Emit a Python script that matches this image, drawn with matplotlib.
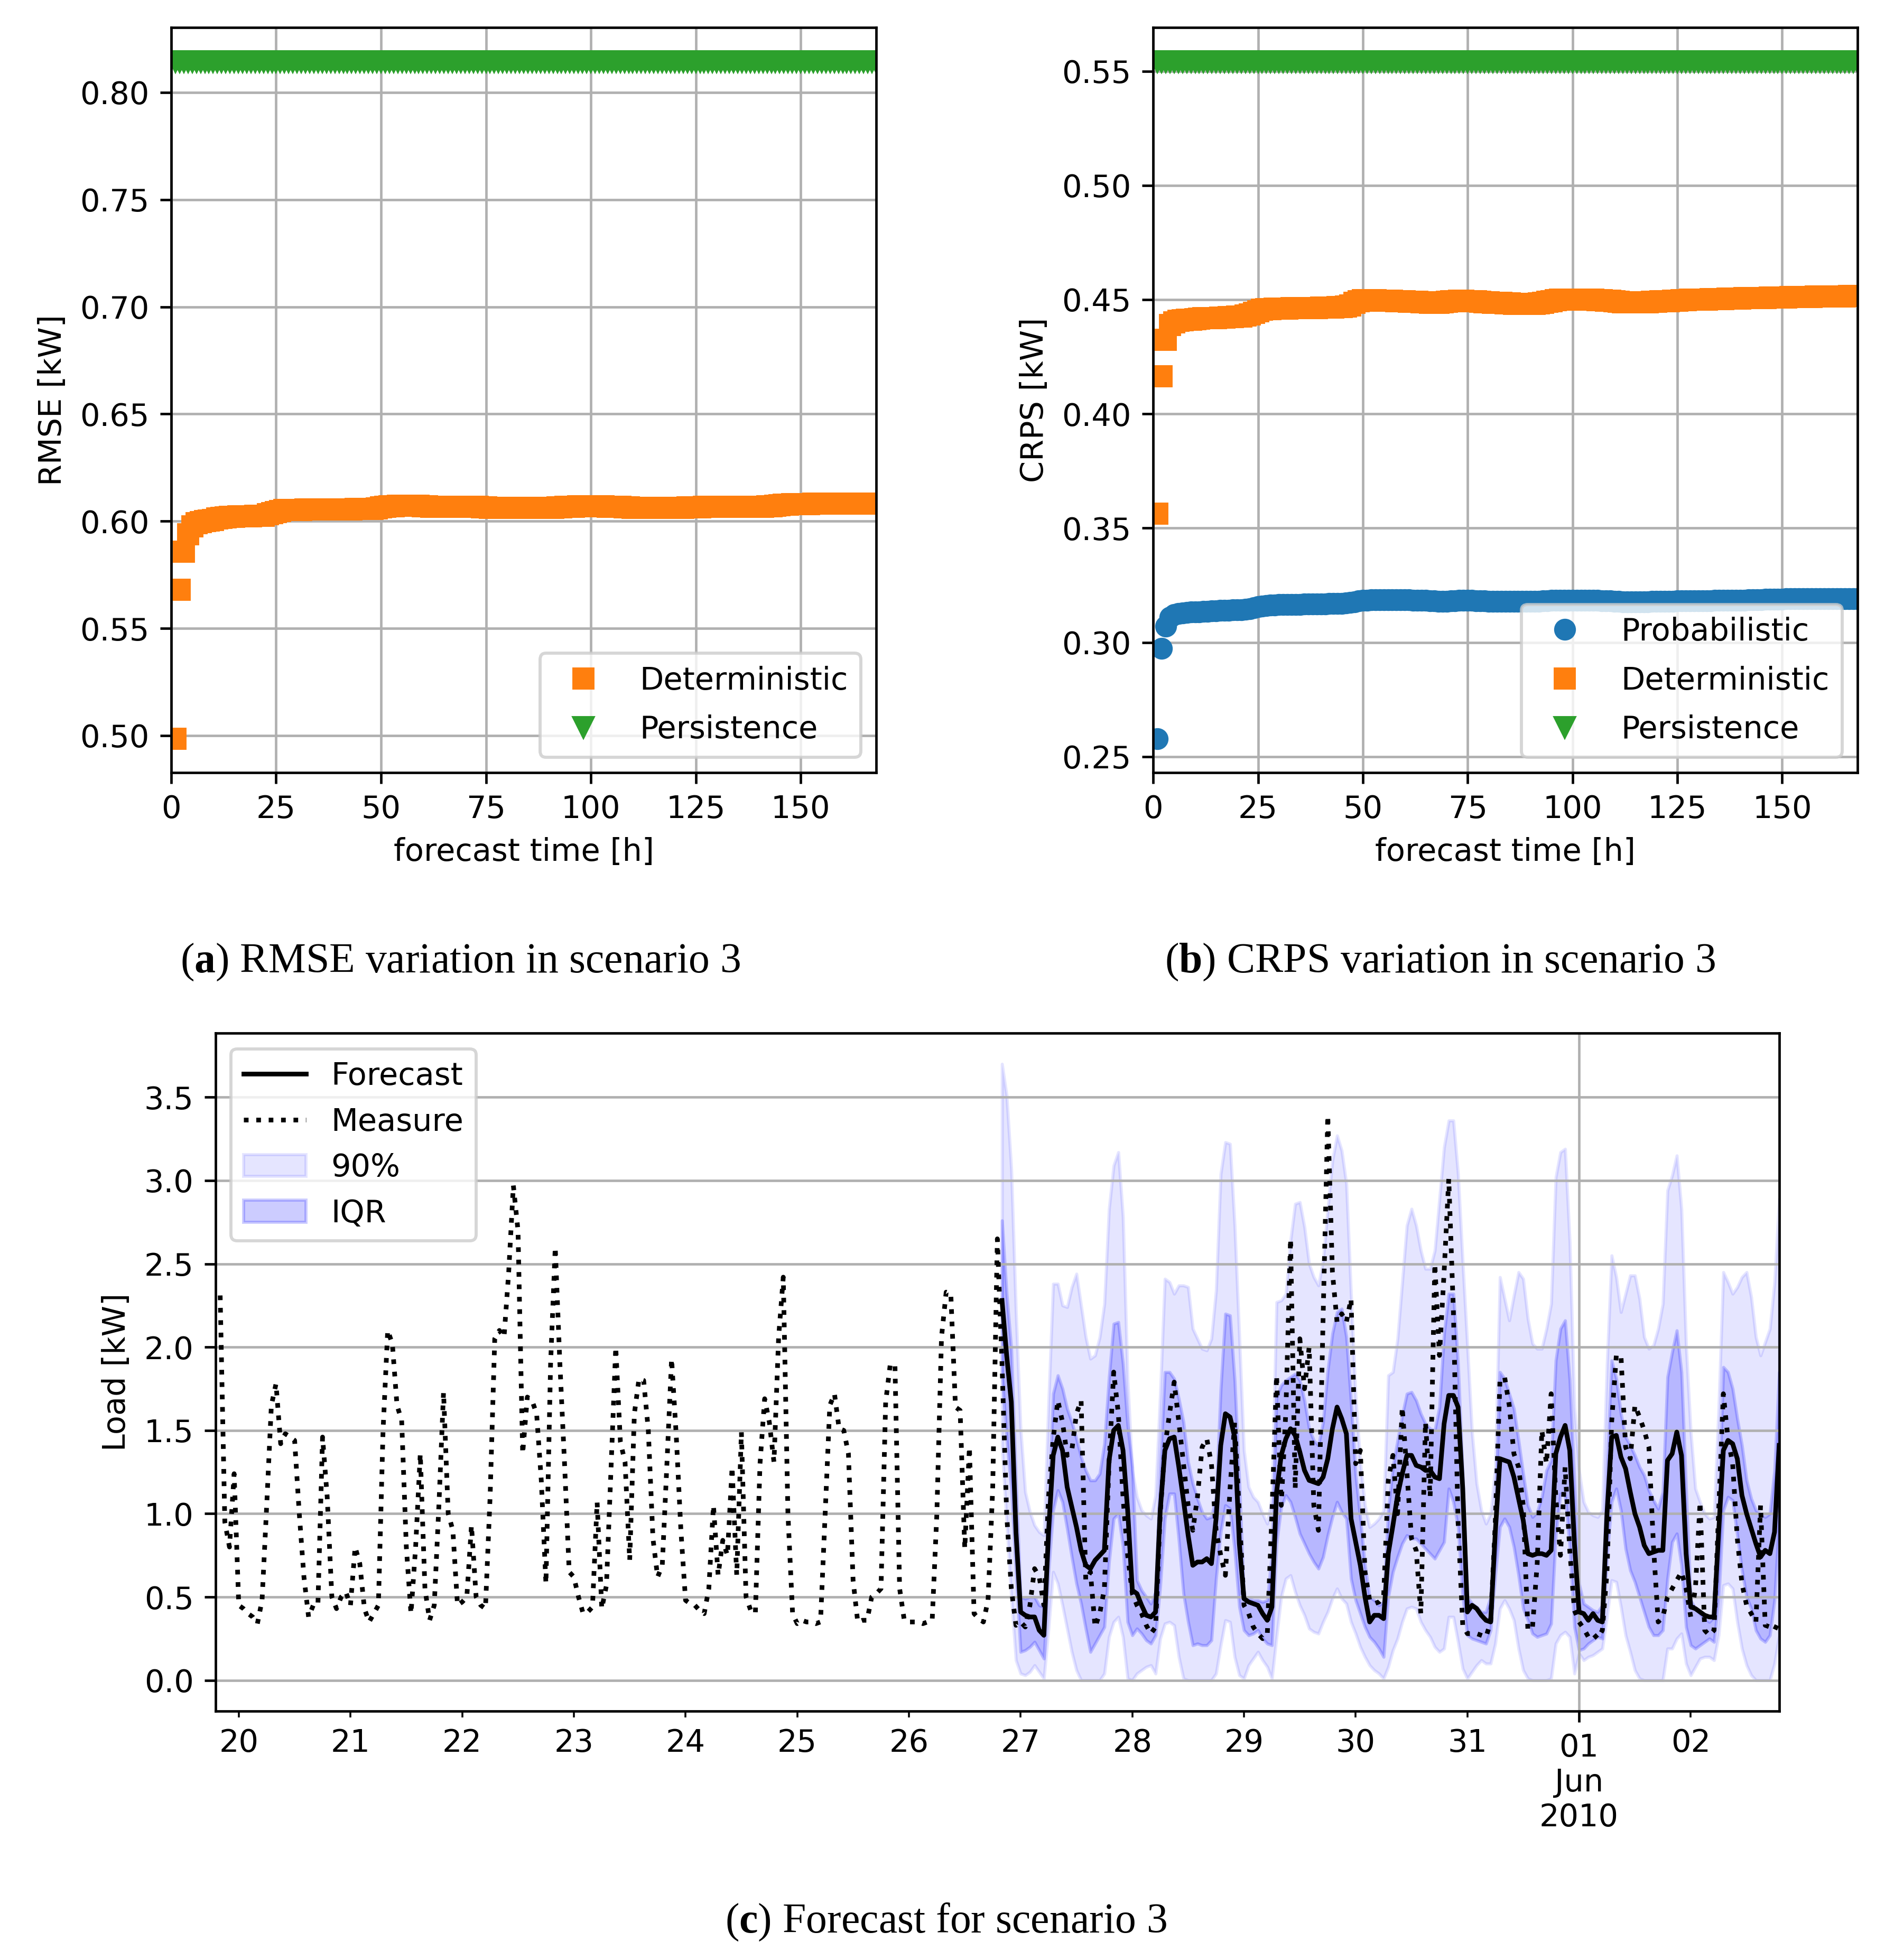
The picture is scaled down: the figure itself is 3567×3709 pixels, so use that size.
import matplotlib
matplotlib.use("Agg")
import matplotlib.pyplot as plt
import matplotlib.dates as mdates
import numpy as np
import pandas as pd

# ---------------- data: error vs forecast horizon ----------------
horizon = list(range(1, 169))

rmse_det = [
    0.4985, 0.5680, 0.5858, 0.5940, 0.5975, 0.5990, 0.5995, 0.6000, 0.6003, 0.6006, 0.6012, 0.6015,
    0.6018, 0.6020, 0.6021, 0.6022, 0.6022, 0.6023, 0.6023, 0.6024, 0.6024, 0.6025, 0.6032, 0.6038,
    0.6042, 0.6048, 0.6052, 0.6053, 0.6053, 0.6053, 0.6053, 0.6054, 0.6054, 0.6054, 0.6055, 0.6055,
    0.6055, 0.6055, 0.6056, 0.6056, 0.6056, 0.6056, 0.6056, 0.6057, 0.6057, 0.6057, 0.6057, 0.6058,
    0.6060, 0.6064, 0.6067, 0.6069, 0.6070, 0.6071, 0.6071, 0.6072, 0.6072, 0.6071, 0.6071, 0.6070,
    0.6069, 0.6068, 0.6067, 0.6066, 0.6066, 0.6066, 0.6066, 0.6066, 0.6066, 0.6066, 0.6066, 0.6066,
    0.6066, 0.6065, 0.6064, 0.6063, 0.6062, 0.6061, 0.6061, 0.6061, 0.6061, 0.6061, 0.6061, 0.6061,
    0.6061, 0.6061, 0.6061, 0.6061, 0.6061, 0.6062, 0.6063, 0.6064, 0.6065, 0.6066, 0.6067, 0.6068,
    0.6069, 0.6069, 0.6069, 0.6069, 0.6069, 0.6069, 0.6069, 0.6068, 0.6068, 0.6067, 0.6066, 0.6065,
    0.6064, 0.6063, 0.6062, 0.6061, 0.6061, 0.6061, 0.6061, 0.6061, 0.6061, 0.6061, 0.6062, 0.6062,
    0.6063, 0.6063, 0.6064, 0.6064, 0.6065, 0.6065, 0.6066, 0.6066, 0.6066, 0.6066, 0.6066, 0.6067,
    0.6067, 0.6067, 0.6067, 0.6067, 0.6068, 0.6068, 0.6068, 0.6068, 0.6068, 0.6069, 0.6070, 0.6072,
    0.6074, 0.6076, 0.6078, 0.6079, 0.6080, 0.6080, 0.6080, 0.6080, 0.6081, 0.6081, 0.6081, 0.6081,
    0.6081, 0.6082, 0.6082, 0.6082, 0.6082, 0.6082, 0.6082, 0.6082, 0.6083, 0.6083, 0.6083, 0.6083,
]

rmse_pers = [
    0.8145, 0.8145, 0.8145, 0.8145, 0.8145, 0.8145, 0.8145, 0.8145, 0.8145, 0.8145, 0.8145, 0.8145,
    0.8145, 0.8145, 0.8145, 0.8145, 0.8145, 0.8145, 0.8145, 0.8145, 0.8145, 0.8145, 0.8145, 0.8145,
    0.8145, 0.8145, 0.8145, 0.8145, 0.8145, 0.8145, 0.8145, 0.8145, 0.8145, 0.8145, 0.8145, 0.8145,
    0.8145, 0.8145, 0.8145, 0.8145, 0.8145, 0.8145, 0.8145, 0.8145, 0.8145, 0.8145, 0.8145, 0.8145,
    0.8145, 0.8145, 0.8145, 0.8145, 0.8145, 0.8145, 0.8145, 0.8145, 0.8145, 0.8145, 0.8145, 0.8145,
    0.8145, 0.8145, 0.8145, 0.8145, 0.8145, 0.8145, 0.8145, 0.8145, 0.8145, 0.8145, 0.8145, 0.8145,
    0.8145, 0.8145, 0.8145, 0.8145, 0.8145, 0.8145, 0.8145, 0.8145, 0.8145, 0.8145, 0.8145, 0.8145,
    0.8145, 0.8145, 0.8145, 0.8145, 0.8145, 0.8145, 0.8145, 0.8145, 0.8145, 0.8145, 0.8145, 0.8145,
    0.8145, 0.8145, 0.8145, 0.8145, 0.8145, 0.8145, 0.8145, 0.8145, 0.8145, 0.8145, 0.8145, 0.8145,
    0.8145, 0.8145, 0.8145, 0.8145, 0.8145, 0.8145, 0.8145, 0.8145, 0.8145, 0.8145, 0.8145, 0.8145,
    0.8145, 0.8145, 0.8145, 0.8145, 0.8145, 0.8145, 0.8145, 0.8145, 0.8145, 0.8145, 0.8145, 0.8145,
    0.8145, 0.8145, 0.8145, 0.8145, 0.8145, 0.8145, 0.8145, 0.8145, 0.8145, 0.8145, 0.8145, 0.8145,
    0.8145, 0.8145, 0.8145, 0.8145, 0.8145, 0.8145, 0.8145, 0.8145, 0.8145, 0.8145, 0.8145, 0.8145,
    0.8145, 0.8145, 0.8145, 0.8145, 0.8145, 0.8145, 0.8145, 0.8145, 0.8145, 0.8145, 0.8145, 0.8145,
]

crps_prob = [
    0.2578, 0.2974, 0.3071, 0.3110, 0.3122, 0.3126, 0.3128, 0.3131, 0.3133, 0.3134, 0.3134, 0.3135,
    0.3136, 0.3137, 0.3138, 0.3139, 0.3140, 0.3141, 0.3142, 0.3142, 0.3143, 0.3145, 0.3148, 0.3152,
    0.3156, 0.3159, 0.3161, 0.3163, 0.3164, 0.3165, 0.3165, 0.3165, 0.3166, 0.3166, 0.3166, 0.3167,
    0.3167, 0.3167, 0.3168, 0.3168, 0.3168, 0.3169, 0.3169, 0.3170, 0.3171, 0.3172, 0.3174, 0.3177,
    0.3181, 0.3184, 0.3185, 0.3186, 0.3186, 0.3187, 0.3187, 0.3187, 0.3187, 0.3187, 0.3186, 0.3186,
    0.3186, 0.3185, 0.3185, 0.3184, 0.3183, 0.3182, 0.3181, 0.3180, 0.3180, 0.3180, 0.3181, 0.3182,
    0.3183, 0.3184, 0.3184, 0.3183, 0.3182, 0.3181, 0.3181, 0.3180, 0.3180, 0.3179, 0.3179, 0.3179,
    0.3179, 0.3179, 0.3179, 0.3179, 0.3179, 0.3179, 0.3179, 0.3180, 0.3181, 0.3182, 0.3183, 0.3184,
    0.3185, 0.3185, 0.3185, 0.3185, 0.3185, 0.3185, 0.3184, 0.3184, 0.3183, 0.3183, 0.3182, 0.3182,
    0.3181, 0.3180, 0.3179, 0.3178, 0.3178, 0.3178, 0.3178, 0.3178, 0.3178, 0.3178, 0.3179, 0.3179,
    0.3179, 0.3180, 0.3180, 0.3180, 0.3181, 0.3181, 0.3181, 0.3181, 0.3182, 0.3182, 0.3182, 0.3182,
    0.3182, 0.3183, 0.3183, 0.3183, 0.3184, 0.3184, 0.3184, 0.3185, 0.3185, 0.3186, 0.3186, 0.3187,
    0.3187, 0.3188, 0.3188, 0.3189, 0.3189, 0.3189, 0.3190, 0.3190, 0.3190, 0.3190, 0.3191, 0.3191,
    0.3191, 0.3191, 0.3192, 0.3192, 0.3192, 0.3192, 0.3192, 0.3192, 0.3192, 0.3192, 0.3192, 0.3192,
]

crps_det = [
    0.3563, 0.4164, 0.4325, 0.4390, 0.4400, 0.4408, 0.4410, 0.4411, 0.4412, 0.4415, 0.4417, 0.4418,
    0.4418, 0.4419, 0.4420, 0.4421, 0.4422, 0.4423, 0.4424, 0.4425, 0.4427, 0.4430, 0.4436, 0.4442,
    0.4450, 0.4455, 0.4458, 0.4459, 0.4460, 0.4460, 0.4461, 0.4461, 0.4462, 0.4462, 0.4462, 0.4463,
    0.4463, 0.4464, 0.4464, 0.4465, 0.4465, 0.4465, 0.4466, 0.4467, 0.4468, 0.4470, 0.4475, 0.4485,
    0.4494, 0.4497, 0.4497, 0.4497, 0.4497, 0.4496, 0.4496, 0.4495, 0.4495, 0.4494, 0.4493, 0.4492,
    0.4491, 0.4490, 0.4490, 0.4489, 0.4488, 0.4487, 0.4487, 0.4487, 0.4488, 0.4490, 0.4492, 0.4494,
    0.4495, 0.4495, 0.4494, 0.4493, 0.4492, 0.4490, 0.4489, 0.4488, 0.4487, 0.4486, 0.4485, 0.4484,
    0.4483, 0.4482, 0.4482, 0.4481, 0.4481, 0.4481, 0.4482, 0.4484, 0.4487, 0.4490, 0.4494, 0.4497,
    0.4499, 0.4500, 0.4501, 0.4501, 0.4501, 0.4500, 0.4500, 0.4499, 0.4499, 0.4498, 0.4497, 0.4496,
    0.4495, 0.4493, 0.4491, 0.4489, 0.4488, 0.4488, 0.4488, 0.4488, 0.4488, 0.4489, 0.4490, 0.4491,
    0.4492, 0.4493, 0.4494, 0.4495, 0.4496, 0.4497, 0.4498, 0.4499, 0.4500, 0.4500, 0.4501, 0.4501,
    0.4502, 0.4502, 0.4503, 0.4503, 0.4504, 0.4504, 0.4505, 0.4505, 0.4506, 0.4506, 0.4507, 0.4507,
    0.4508, 0.4508, 0.4509, 0.4509, 0.4510, 0.4510, 0.4510, 0.4511, 0.4511, 0.4511, 0.4512, 0.4512,
    0.4512, 0.4513, 0.4513, 0.4513, 0.4513, 0.4514, 0.4514, 0.4514, 0.4514, 0.4515, 0.4515, 0.4515,
]

crps_pers = [
    0.5543, 0.5543, 0.5543, 0.5543, 0.5543, 0.5543, 0.5543, 0.5543, 0.5543, 0.5543, 0.5543, 0.5543,
    0.5543, 0.5543, 0.5543, 0.5543, 0.5543, 0.5543, 0.5543, 0.5543, 0.5543, 0.5543, 0.5543, 0.5543,
    0.5543, 0.5543, 0.5543, 0.5543, 0.5543, 0.5543, 0.5543, 0.5543, 0.5543, 0.5543, 0.5543, 0.5543,
    0.5543, 0.5543, 0.5543, 0.5543, 0.5543, 0.5543, 0.5543, 0.5543, 0.5543, 0.5543, 0.5543, 0.5543,
    0.5543, 0.5543, 0.5543, 0.5543, 0.5543, 0.5543, 0.5543, 0.5543, 0.5543, 0.5543, 0.5543, 0.5543,
    0.5543, 0.5543, 0.5543, 0.5543, 0.5543, 0.5543, 0.5543, 0.5543, 0.5543, 0.5543, 0.5543, 0.5543,
    0.5543, 0.5543, 0.5543, 0.5543, 0.5543, 0.5543, 0.5543, 0.5543, 0.5543, 0.5543, 0.5543, 0.5543,
    0.5543, 0.5543, 0.5543, 0.5543, 0.5543, 0.5543, 0.5543, 0.5543, 0.5543, 0.5543, 0.5543, 0.5543,
    0.5543, 0.5543, 0.5543, 0.5543, 0.5543, 0.5543, 0.5543, 0.5543, 0.5543, 0.5543, 0.5543, 0.5543,
    0.5543, 0.5543, 0.5543, 0.5543, 0.5543, 0.5543, 0.5543, 0.5543, 0.5543, 0.5543, 0.5543, 0.5543,
    0.5543, 0.5543, 0.5543, 0.5543, 0.5543, 0.5543, 0.5543, 0.5543, 0.5543, 0.5543, 0.5543, 0.5543,
    0.5543, 0.5543, 0.5543, 0.5543, 0.5543, 0.5543, 0.5543, 0.5543, 0.5543, 0.5543, 0.5543, 0.5543,
    0.5543, 0.5543, 0.5543, 0.5543, 0.5543, 0.5543, 0.5543, 0.5543, 0.5543, 0.5543, 0.5543, 0.5543,
    0.5543, 0.5543, 0.5543, 0.5543, 0.5543, 0.5543, 0.5543, 0.5543, 0.5543, 0.5543, 0.5543, 0.5543,
]

# ---------------- data: load time series (hourly) ----------------
start = "2010-05-19 19:00"
n_hours = 337
fc_first = 169  # first forecast hour (index into the hourly axis)

# measured load, hours 1..336
measure = [
    2.31, 0.95, 0.80, 1.24, 0.45, 0.43, 0.40, 0.38, 0.34, 0.48, 1.05, 1.65,
    1.78, 1.42, 1.48, 1.46, 1.44, 1.00, 0.62, 0.38, 0.45, 0.45, 1.46, 1.10,
    0.50, 0.43, 0.50, 0.53, 0.45, 0.80, 0.70, 0.43, 0.35, 0.40, 0.45, 1.50,
    2.10, 2.02, 1.65, 1.56, 0.80, 0.40, 0.80, 1.36, 0.55, 0.36, 0.45, 1.05,
    1.73, 1.00, 0.90, 0.45, 0.47, 0.50, 0.93, 0.50, 0.45, 0.43, 1.10, 2.05,
    2.10, 2.06, 2.45, 2.97, 2.70, 1.36, 1.70, 1.68, 1.60, 1.20, 0.58, 1.90,
    2.60, 1.90, 1.30, 0.65, 0.62, 0.50, 0.40, 0.41, 0.44, 1.07, 0.43, 0.57,
    1.28, 2.00, 1.43, 1.31, 0.72, 1.60, 1.81, 1.80, 1.50, 0.85, 0.62, 0.69,
    1.30, 1.93, 1.47, 0.90, 0.48, 0.46, 0.45, 0.42, 0.40, 0.55, 1.05, 0.63,
    0.84, 0.75, 1.28, 0.63, 1.49, 0.50, 0.42, 0.40, 1.30, 1.69, 1.55, 1.31,
    2.06, 2.42, 1.00, 0.40, 0.34, 0.36, 0.35, 0.35, 0.34, 0.35, 1.00, 1.65,
    1.72, 1.51, 1.50, 1.36, 0.60, 0.35, 0.36, 0.36, 0.50, 0.52, 0.55, 1.67,
    1.90, 1.89, 0.55, 0.36, 0.35, 0.35, 0.35, 0.34, 0.35, 0.36, 1.00, 2.06,
    2.33, 2.32, 1.64, 1.62, 0.79, 1.40, 0.40, 0.37, 0.35, 0.48, 1.15, 2.65,
    1.90, 1.00, 0.55, 0.33, 0.35, 0.32, 0.45, 0.67, 0.62, 0.45, 1.10, 1.45,
    1.68, 1.55, 1.35, 1.38, 1.60, 1.68, 0.60, 0.65, 0.32, 0.40, 0.55, 1.30,
    1.85, 1.60, 1.10, 0.75, 0.52, 0.45, 0.40, 0.33, 0.28, 0.32, 1.00, 1.40,
    1.60, 1.79, 1.55, 1.30, 1.05, 0.90, 1.10, 1.40, 1.45, 1.30, 0.90, 0.75,
    0.63, 1.15, 1.55, 1.00, 0.45, 0.40, 0.32, 0.28, 0.25, 0.27, 1.00, 1.83,
    1.05, 1.62, 2.65, 1.15, 2.05, 1.75, 2.00, 1.05, 0.90, 2.18, 3.39, 2.45,
    2.15, 2.20, 2.15, 2.29, 1.30, 1.38, 0.65, 0.48, 0.46, 0.47, 0.50, 1.20,
    1.35, 1.00, 1.64, 1.25, 0.85, 0.78, 0.40, 1.55, 1.10, 2.50, 1.95, 2.45,
    3.01, 2.21, 0.95, 0.33, 0.28, 0.28, 0.28, 0.27, 0.26, 0.35, 0.95, 1.80,
    1.82, 1.65, 1.36, 1.28, 1.05, 0.30, 0.32, 0.70, 1.50, 1.30, 1.72, 1.10,
    0.75, 1.28, 0.78, 0.42, 0.35, 0.31, 0.26, 0.28, 0.25, 0.30, 0.65, 1.55,
    1.95, 1.95, 1.40, 1.33, 1.65, 1.58, 1.50, 1.40, 0.80, 0.35, 0.38, 0.50,
    0.55, 0.60, 0.65, 0.55, 0.38, 0.55, 1.07, 0.30, 0.27, 0.30, 1.02, 1.72,
    1.45, 1.30, 0.85, 0.58, 0.45, 0.40, 0.35, 1.05, 0.33, 0.32, 0.30, 0.36,
]

# forecast median and quantiles, hours 169..336
fc_median = [
    2.28, 1.95, 1.67, 0.89, 0.41, 0.39, 0.38, 0.38, 0.30, 0.27, 0.89, 1.35,
    1.46, 1.38, 1.16, 1.04, 0.92, 0.78, 0.69, 0.67, 0.72, 0.75, 0.78, 1.32,
    1.50, 1.53, 1.38, 1.02, 0.54, 0.52, 0.45, 0.39, 0.38, 0.41, 1.02, 1.38,
    1.45, 1.46, 1.28, 1.08, 0.87, 0.69, 0.71, 0.71, 0.73, 0.70, 0.97, 1.41,
    1.60, 1.58, 1.46, 0.82, 0.49, 0.47, 0.46, 0.45, 0.40, 0.36, 0.44, 1.13,
    1.35, 1.45, 1.51, 1.47, 1.37, 1.26, 1.20, 1.19, 1.18, 1.22, 1.33, 1.51,
    1.64, 1.57, 1.48, 0.97, 0.83, 0.69, 0.50, 0.35, 0.39, 0.39, 0.37, 0.76,
    0.93, 1.11, 1.24, 1.35, 1.35, 1.29, 1.28, 1.26, 1.26, 1.22, 1.21, 1.54,
    1.71, 1.71, 1.64, 1.15, 0.41, 0.45, 0.43, 0.39, 0.36, 0.35, 0.89, 1.33,
    1.32, 1.31, 1.22, 1.09, 0.96, 0.76, 0.75, 0.76, 0.76, 0.75, 0.78, 1.36,
    1.46, 1.53, 1.38, 0.82, 0.41, 0.40, 0.36, 0.40, 0.36, 0.35, 1.00, 1.46,
    1.47, 1.34, 1.27, 1.13, 1.00, 0.92, 0.81, 0.76, 0.77, 0.78, 0.78, 1.32,
    1.36, 1.49, 1.35, 0.76, 0.44, 0.43, 0.41, 0.39, 0.38, 0.38, 0.89, 1.38,
    1.44, 1.42, 1.33, 1.11, 1.00, 0.91, 0.82, 0.74, 0.78, 0.76, 0.89, 1.41,
]

fc_q95 = [
    3.70, 3.51, 3.07, 2.21, 1.51, 1.13, 1.01, 0.93, 0.89, 0.87, 1.67, 2.38,
    2.38, 2.25, 2.24, 2.36, 2.44, 2.25, 2.06, 1.93, 1.95, 2.06, 2.26, 2.83,
    3.09, 3.17, 2.78, 1.80, 1.26, 1.10, 1.02, 0.99, 0.97, 1.11, 1.72, 2.41,
    2.39, 2.32, 2.37, 2.37, 2.36, 2.11, 2.05, 1.99, 1.98, 2.05, 2.34, 3.04,
    3.23, 3.22, 2.73, 2.06, 1.38, 1.16, 1.10, 1.07, 1.00, 0.94, 1.10, 2.27,
    2.28, 2.32, 2.64, 2.86, 2.87, 2.72, 2.50, 2.42, 2.37, 2.52, 2.83, 3.12,
    3.27, 3.18, 2.98, 2.32, 1.70, 1.31, 1.05, 0.92, 0.94, 0.97, 1.02, 1.83,
    1.85, 2.05, 2.39, 2.73, 2.83, 2.73, 2.58, 2.47, 2.47, 2.58, 2.89, 3.20,
    3.36, 3.36, 3.04, 2.51, 2.01, 1.49, 1.18, 1.02, 0.94, 1.00, 1.28, 2.42,
    2.29, 2.16, 2.31, 2.45, 2.41, 2.17, 2.02, 1.99, 1.99, 2.11, 2.26, 3.02,
    3.17, 3.19, 2.63, 1.64, 1.26, 1.07, 1.01, 0.99, 0.98, 1.02, 1.90, 2.55,
    2.42, 2.21, 2.32, 2.43, 2.43, 2.29, 2.06, 1.99, 2.01, 2.11, 2.26, 2.94,
    3.03, 3.15, 2.83, 2.01, 1.49, 1.15, 1.07, 1.00, 0.97, 0.98, 1.64, 2.45,
    2.39, 2.32, 2.36, 2.42, 2.45, 2.30, 2.06, 1.95, 2.03, 2.11, 2.39, 2.89,
]

fc_q75 = [
    2.76, 2.32, 1.99, 1.20, 0.50, 0.49, 0.50, 0.50, 0.45, 0.44, 1.05, 1.72,
    1.83, 1.75, 1.63, 1.55, 1.45, 1.34, 1.26, 1.20, 1.20, 1.24, 1.42, 1.82,
    2.14, 2.15, 1.90, 1.53, 1.28, 0.60, 0.54, 0.50, 0.46, 0.53, 1.28, 1.85,
    1.85, 1.81, 1.69, 1.55, 1.31, 1.18, 1.09, 1.01, 0.97, 0.98, 1.10, 1.75,
    2.20, 2.19, 1.80, 1.20, 0.50, 0.49, 0.48, 0.48, 0.47, 0.48, 0.76, 1.70,
    1.77, 1.80, 1.82, 1.84, 1.80, 1.68, 1.51, 1.44, 1.41, 1.55, 1.86, 2.08,
    2.21, 2.23, 2.06, 1.67, 1.23, 0.97, 0.69, 0.50, 0.48, 0.45, 0.47, 1.02,
    1.28, 1.44, 1.59, 1.72, 1.73, 1.68, 1.60, 1.54, 1.51, 1.50, 1.64, 2.08,
    2.32, 2.32, 1.90, 1.23, 0.50, 0.46, 0.44, 0.41, 0.41, 0.50, 0.97, 1.85,
    1.81, 1.72, 1.63, 1.44, 1.24, 1.05, 0.98, 1.01, 1.10, 1.26, 1.32, 1.92,
    2.11, 2.16, 1.80, 1.20, 0.58, 0.46, 0.44, 0.42, 0.41, 0.45, 1.28, 1.92,
    1.81, 1.60, 1.46, 1.41, 1.35, 1.28, 1.23, 1.14, 1.08, 1.03, 1.13, 1.82,
    1.97, 2.10, 1.85, 1.15, 0.48, 0.43, 0.40, 0.37, 0.35, 0.38, 1.02, 1.88,
    1.85, 1.75, 1.57, 1.41, 1.20, 1.09, 1.02, 1.00, 0.98, 1.00, 1.26, 1.85,
]

fc_q25 = [
    1.85, 1.45, 1.15, 0.65, 0.17, 0.18, 0.20, 0.23, 0.18, 0.13, 0.65, 1.02,
    1.14, 1.07, 0.91, 0.74, 0.58, 0.46, 0.31, 0.17, 0.22, 0.27, 0.32, 0.71,
    0.97, 1.00, 0.80, 0.35, 0.27, 0.31, 0.28, 0.24, 0.22, 0.27, 0.56, 0.97,
    1.12, 1.12, 0.84, 0.52, 0.35, 0.21, 0.22, 0.21, 0.21, 0.24, 0.61, 0.89,
    1.05, 1.03, 0.78, 0.44, 0.30, 0.27, 0.28, 0.30, 0.25, 0.22, 0.21, 0.82,
    1.04, 1.11, 1.07, 0.98, 0.88, 0.82, 0.76, 0.71, 0.67, 0.74, 0.87, 0.98,
    1.07, 1.01, 0.97, 0.61, 0.48, 0.40, 0.32, 0.26, 0.23, 0.19, 0.14, 0.50,
    0.65, 0.74, 0.82, 0.87, 0.85, 0.85, 0.82, 0.79, 0.76, 0.73, 0.78, 0.83,
    1.15, 1.07, 0.92, 0.50, 0.27, 0.25, 0.24, 0.23, 0.22, 0.30, 0.63, 0.92,
    0.97, 0.92, 0.80, 0.63, 0.43, 0.36, 0.28, 0.26, 0.27, 0.28, 0.34, 0.87,
    1.12, 1.11, 0.80, 0.32, 0.18, 0.19, 0.22, 0.24, 0.26, 0.25, 0.74, 1.07,
    1.15, 1.02, 0.79, 0.66, 0.59, 0.50, 0.41, 0.32, 0.27, 0.27, 0.30, 0.61,
    0.83, 0.88, 0.69, 0.32, 0.21, 0.19, 0.21, 0.23, 0.25, 0.23, 0.49, 1.02,
    1.10, 1.08, 0.87, 0.66, 0.50, 0.43, 0.30, 0.25, 0.23, 0.27, 0.48, 0.97,
]

fc_q05 = [
    1.40, 0.95, 0.50, 0.12, 0.04, 0.03, 0.05, 0.09, 0.05, 0.01, 0.31, 0.65,
    0.58, 0.45, 0.31, 0.17, 0.06, 0.00, 0.00, 0.00, 0.00, 0.00, 0.04, 0.26,
    0.35, 0.38, 0.26, 0.01, 0.00, 0.04, 0.06, 0.08, 0.09, 0.04, 0.25, 0.34,
    0.35, 0.33, 0.14, 0.01, 0.00, 0.00, 0.00, 0.00, 0.00, 0.00, 0.04, 0.21,
    0.36, 0.35, 0.14, 0.03, 0.01, 0.09, 0.13, 0.17, 0.12, 0.08, 0.01, 0.26,
    0.50, 0.61, 0.63, 0.53, 0.45, 0.39, 0.31, 0.29, 0.28, 0.35, 0.41, 0.49,
    0.55, 0.49, 0.46, 0.35, 0.28, 0.20, 0.14, 0.09, 0.06, 0.04, 0.01, 0.08,
    0.18, 0.25, 0.35, 0.43, 0.44, 0.43, 0.35, 0.30, 0.26, 0.20, 0.17, 0.19,
    0.38, 0.38, 0.23, 0.07, 0.01, 0.05, 0.09, 0.12, 0.10, 0.10, 0.22, 0.43,
    0.48, 0.43, 0.36, 0.19, 0.06, 0.01, 0.00, 0.00, 0.00, 0.00, 0.01, 0.22,
    0.27, 0.29, 0.26, 0.04, 0.16, 0.12, 0.14, 0.15, 0.17, 0.19, 0.38, 0.60,
    0.59, 0.44, 0.27, 0.17, 0.06, 0.01, 0.00, 0.00, 0.00, 0.00, 0.00, 0.19,
    0.19, 0.25, 0.28, 0.10, 0.03, 0.08, 0.13, 0.14, 0.14, 0.12, 0.27, 0.57,
    0.58, 0.55, 0.35, 0.19, 0.09, 0.03, 0.00, 0.00, 0.00, 0.00, 0.10, 0.27,
]

captions = [
    r"$(\mathbf{a})$ RMSE variation in scenario 3",
    r"$(\mathbf{b})$ CRPS variation in scenario 3",
    r"$(\mathbf{c})$ Forecast for scenario 3",
]

# ---------------- figure ----------------
plt.rcParams['mathtext.fontset'] = 'custom'
plt.rcParams['mathtext.rm'] = 'Liberation Serif'
plt.rcParams['mathtext.bf'] = 'Liberation Serif:bold'

DPI = 425
fig = plt.figure(figsize=(3568 / DPI, 3709 / DPI), dpi=DPI)

# (a) RMSE
ax1 = fig.add_axes([0.0908, 0.6058, 0.3739, 0.3802])
ax1.plot(horizon, rmse_det, 's', color='C1', label='Deterministic')
ax1.plot(horizon, rmse_pers, 'v', color='C2', label='Persistence')
ax1.set_xlim(0, 168)
ax1.set_xlabel('forecast time [h]')
ax1.set_ylabel('RMSE [kW]')
ax1.grid(True)
ax1.legend(loc='lower right', labelspacing=0.6)

# (b) CRPS
ax2 = fig.add_axes([0.6116, 0.6058, 0.3736, 0.3802])
ax2.plot(horizon, crps_prob, 'o', color='C0', label='Probabilistic')
ax2.plot(horizon, crps_det, 's', color='C1', label='Deterministic')
ax2.plot(horizon, crps_pers, 'v', color='C2', label='Persistence')
ax2.set_xlim(0, 168)
ax2.set_xlabel('forecast time [h]')
ax2.set_ylabel('CRPS [kW]')
ax2.grid(True)
ax2.legend(loc='lower right', labelspacing=0.6)

# (c) load forecast
hours = pd.date_range(start, periods=n_hours, freq='h')
t_meas = hours[1:]
t_fc = hours[fc_first:]

ax3 = fig.add_axes([0.1143, 0.1270, 0.8293, 0.3459])
band90 = ax3.fill_between(t_fc, fc_q05, fc_q95, color='b', alpha=0.1, label='90%')
band50 = ax3.fill_between(t_fc, fc_q25, fc_q75, color='b', alpha=0.2, label='IQR')
l_fc, = ax3.plot(t_fc, fc_median, color='k', lw=1.5, label='Forecast')
l_ms, = ax3.plot(t_meas, measure, color='k', lw=1.5, ls=':', label='Measure')
ax3.set_xlim(hours[0], hours[-1])
ax3.set_ylabel('Load [kW]')

ax3.xaxis.set_major_locator(mdates.MonthLocator())
ax3.xaxis.set_major_formatter(mdates.DateFormatter('%d\n%b\n%Y'))
ax3.xaxis.set_minor_locator(mdates.DayLocator())
ax3.xaxis.set_minor_formatter(mdates.DateFormatter('%d'))
ax3.grid(True, which='major')
ax3.legend(handles=[l_fc, l_ms, band90, band50], loc='upper left')

# sub-captions
cap_kw = dict(ha='center', va='baseline', fontsize=13.5, family='Liberation Serif')
fig.text(0.2441, 1 - 1840 / 3709, captions[0], **cap_kw)
fig.text(0.7637, 1 - 1840 / 3709, captions[1], **cap_kw)
fig.text(0.5018, 1 - 3657 / 3709, captions[2], **cap_kw)

fig.savefig('out.png', dpi=DPI)
